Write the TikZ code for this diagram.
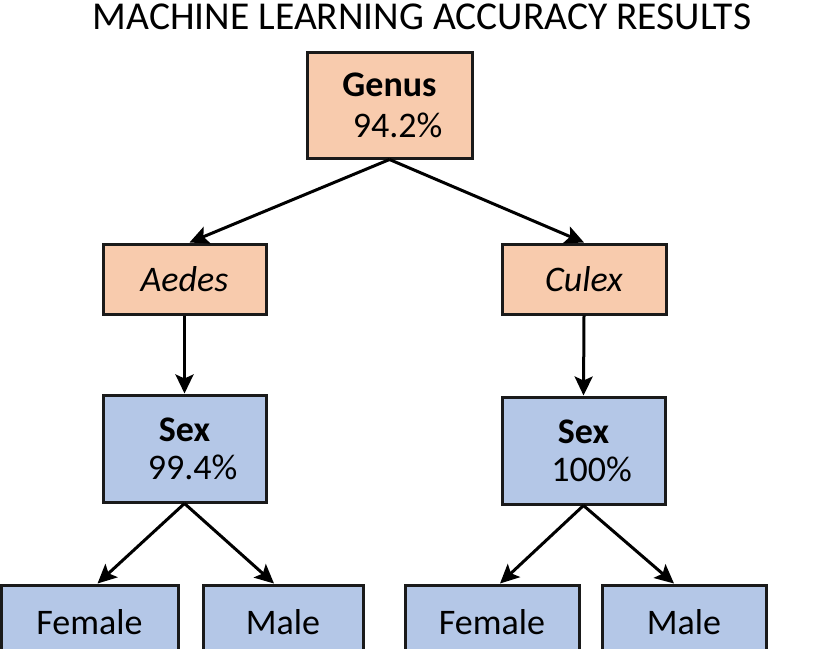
\documentclass[tikz,border=0pt]{standalone}
\usepackage{fontspec}
\setmainfont{Carlito}
\usetikzlibrary{arrows.meta}
\definecolor{peach}{HTML}{F8CBAD}
\definecolor{lblue}{HTML}{B4C7E7}
\definecolor{edge}{HTML}{1A1A1A}
\begin{document}
\begin{tikzpicture}[x=1pt,y=-1pt,
  box/.style={draw=edge,line width=3pt,inner sep=0pt,align=center,font=\fontsize{36}{41}\selectfont,text=black},
  pbox/.style={box,fill=peach},
  bbox/.style={box,fill=lblue},
  conn/.style={draw=black,line width=3pt,-{Stealth[length=19pt,width=18pt,inset=4pt]}}]
\useasboundingbox (0,0) rectangle (816,648);
\clip (0,0) rectangle (816,648);
\node[font=\fontsize{39.5}{42}\selectfont,text=black,anchor=base] (title) at (422,29) {MACHINE LEARNING ACCURACY RESULTS};
\node[pbox,minimum width=165pt,minimum height=106pt] (genus) at (389.5,105) {\textbf{Genus}\\\hspace{0.45em}94.2\%};
\node[pbox,minimum width=163pt,minimum height=70pt] (aedes) at (184.5,279) {\textit{Aedes}};
\node[pbox,minimum width=164pt,minimum height=70pt] (culex) at (584,279) {\textit{Culex}};
\node[bbox,minimum width=163pt,minimum height=107pt] (sexL) at (184.5,448.5) {\raisebox{-3pt}{\textbf{Sex}}\\\hspace{0.45em}99.4\%};
\node[bbox,minimum width=163pt,minimum height=107pt] (sexR) at (583.5,450.5) {\raisebox{-3pt}{\textbf{Sex}}\\\hspace{0.45em}100\%};
\node[bbox,minimum width=177pt,minimum height=107pt] (femL) at (89.5,638.5) {\raisebox{33pt}{Female}};
\node[bbox,minimum width=160pt,minimum height=107pt] (maleL) at (283,638.5) {\raisebox{33pt}{Male}};
\node[bbox,minimum width=174pt,minimum height=107pt] (femR) at (492,638.5) {\raisebox{33pt}{Female}};
\node[bbox,minimum width=164pt,minimum height=107pt] (maleR) at (684,638.5) {\raisebox{33pt}{Male}};
\draw[conn] (genus.south) -- ([xshift=5pt]aedes.north);
\draw[conn] (genus.south) -- (culex.north);
\draw[conn] (aedes.south) -- (sexL.north);
\draw[conn] (culex.south) -- (sexR.north);
\draw[conn] (sexL.south) -- ([xshift=8pt]femL.north);
\draw[conn] (sexL.south) -- ([xshift=-9pt]maleL.north);
\draw[conn] (sexR.south) -- ([xshift=8pt]femR.north);
\draw[conn] (sexR.south) -- ([xshift=-10pt]maleR.north);
\end{tikzpicture}
\end{document}
